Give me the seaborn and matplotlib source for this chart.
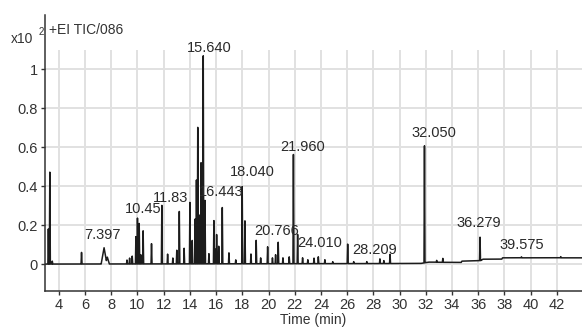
import numpy as np
import pandas as pd
import matplotlib
matplotlib.use("Agg")
import matplotlib.pyplot as plt
import seaborn as sns

# peak apex times (min) and heights (x10^2 counts above baseline)
peak_times = [3.2, 3.31, 3.5, 5.73, 7.45, 7.7, 9.2, 9.4, 9.6, 9.88, 10.0, 10.13,
              10.25, 10.43, 11.07, 11.86, 12.3, 12.7, 13.0, 13.19, 13.56, 14.0,
              14.18, 14.4, 14.5, 14.6, 14.72, 14.85, 15.02, 15.15, 15.45, 15.83,
              15.95, 16.04, 16.2, 16.47, 16.98, 17.5, 17.99, 18.2, 18.66, 19.06,
              19.4, 19.93, 20.3, 20.54, 20.74, 21.1, 21.58, 21.9, 22.22, 22.6,
              23.0, 23.47, 23.8, 24.3, 24.9, 26.04, 26.5, 27.5, 28.5, 28.8, 29.27,
              31.9, 32.83, 33.3, 36.14, 39.3, 42.3]
peak_heights = [0.18, 0.50, 0.015, 0.063, 0.084, 0.035, 0.02, 0.03, 0.04, 0.14, 0.235, 0.22,
                0.05, 0.18, 0.11, 0.30, 0.05, 0.03, 0.07, 0.285, 0.08, 0.315,
                0.12, 0.23, 0.43, 0.70, 0.25, 0.55, 1.067, 0.345, 0.055, 0.235,
                0.08, 0.15, 0.09, 0.306, 0.056, 0.02, 0.42, 0.22, 0.05, 0.12,
                0.03, 0.092, 0.03, 0.046, 0.11, 0.03, 0.035, 0.56, 0.15, 0.03,
                0.02, 0.03, 0.035, 0.02, 0.01, 0.10, 0.01, 0.01, 0.024, 0.015, 0.05,
                0.60, 0.01, 0.02, 0.12, 0.005, 0.006]
broad_peaks = {7.45: 0.22, 7.7: 0.15}

# baseline drift
base_times = [2.9, 31.6, 32.2, 34.7, 34.75, 36.2, 36.35, 37.8, 37.85, 44.0]
base_levels = [0.0, 0.003, 0.01, 0.008, 0.015, 0.018, 0.025, 0.025, 0.032, 0.032]

# labelled peaks
label_text = ["7.397", "10.45", "11.83", "15.640", "16.443", "18.040", "20.766",
              "21.960", "24.010", "28.209", "32.050", "36.279", "39.575"]
label_t = [7.36, 10.4, 12.55, 15.45, 16.4, 18.8, 20.6, 22.6, 23.9, 28.1, 32.6, 36.06, 39.3]
label_v = [0.15, 0.28, 0.34, 1.11, 0.37, 0.47, 0.17, 0.60, 0.106, 0.072, 0.67, 0.21, 0.10]

t = np.arange(2.9, 44.0, 0.004)
signal = np.zeros_like(t)
for tp, h in zip(peak_times, peak_heights):
    w = broad_peaks.get(tp, 0.035)
    signal = np.maximum(signal, h * np.clip(1 - np.abs(t - tp) / w, 0, None))
signal = signal + np.interp(t, base_times, base_levels)
df = pd.DataFrame({"Time (min)": t, "Counts": signal})

sns.set_theme(style="white")
plt.rcParams["font.family"] = ["Liberation Sans Narrow", "Liberation Sans", "DejaVu Sans"]

fig = plt.figure(figsize=(5.82, 3.36), dpi=100)
ax = fig.add_axes([0.077, 0.134, 0.923, 0.821])
x0, x1 = 2.93, 43.92
y0, y1 = -0.138, 1.277

grid_col = "#e1e1e1"
for yv in np.arange(0, 1.01, 0.2):
    ax.axhline(yv, color=grid_col, lw=1.4, zorder=0)
ax.vlines(np.arange(4, 44, 2), y0, 1.10, color=grid_col, lw=1.4, zorder=0)

sns.lineplot(data=df, x="Time (min)", y="Counts", ax=ax, color="#1c1c1c",
             linewidth=1.1, estimator=None, sort=False)

for s, tx, vy in zip(label_text, label_t, label_v):
    ax.text(tx, vy, s, ha="center", va="center", fontsize=10.5, color="#2a2a2a")

ax.set_xlim(x0, x1)
ax.set_ylim(y0, y1)
ax.set_xticks(np.arange(4, 44, 2))
ax.set_yticks([0, 0.2, 0.4, 0.6, 0.8, 1.0])
ax.set_yticklabels(["0", "0.2", "0.4", "0.6", "0.8", "1"])
ax.tick_params(axis="both", direction="out", length=3, width=1, color="#333333",
               labelsize=10.5, labelcolor="#333333", pad=2, bottom=True, left=True)
ax.set_xlabel("Time (min)", fontsize=10, color="#333333", labelpad=1)
ax.set_ylabel("")
for side in ["top", "right"]:
    ax.spines[side].set_visible(False)
for side in ["left", "bottom"]:
    ax.spines[side].set_color("#333333")
    ax.spines[side].set_linewidth(1.1)

fig.text(0.018, 0.885, "x10", fontsize=10, color="#333333", va="center")
fig.text(0.066, 0.905, "2", fontsize=7, color="#333333", va="center")
fig.text(0.085, 0.91, "+EI TIC/086", fontsize=10, color="#333333", va="center")

fig.savefig("out.png", dpi=100)
